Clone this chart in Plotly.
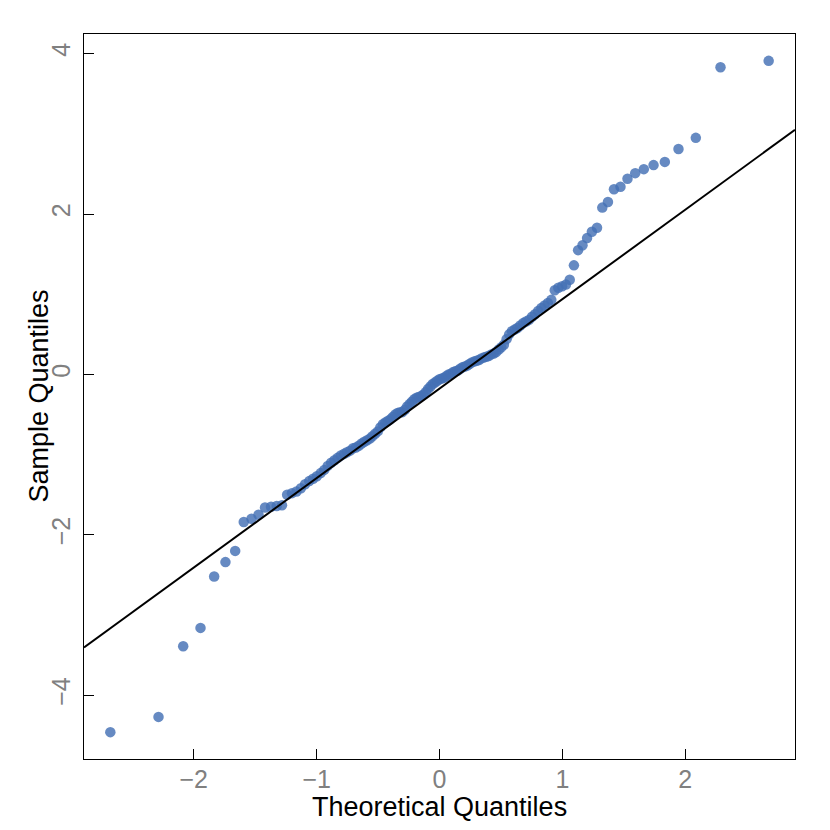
import plotly.graph_objects as go

# Theoretical normal quantiles (plotting positions (i-0.5)/n, n = 135)
theoretical_quantiles = [
    -2.679, -2.287, -2.086, -1.945, -1.834, -1.742, -1.663, -1.593, -1.530, -1.473,
    -1.420, -1.371, -1.325, -1.282, -1.240, -1.201, -1.164, -1.128, -1.094, -1.060,
    -1.029, -0.998, -0.967, -0.938, -0.910, -0.882, -0.855, -0.829, -0.803, -0.777,
    -0.753, -0.728, -0.704, -0.681, -0.657, -0.634, -0.612, -0.589, -0.567, -0.546,
    -0.524, -0.503, -0.482, -0.461, -0.441, -0.421, -0.400, -0.380, -0.360, -0.341,
    -0.321, -0.302, -0.282, -0.263, -0.244, -0.225, -0.206, -0.187, -0.168, -0.149,
    -0.130, -0.112, -0.093, -0.074, -0.056, -0.037, -0.019, 0.000,
    0.019, 0.037, 0.056, 0.074, 0.093, 0.112, 0.130, 0.149, 0.168, 0.187,
    0.206, 0.225, 0.244, 0.263, 0.282, 0.302, 0.321, 0.341, 0.360, 0.380,
    0.400, 0.421, 0.441, 0.461, 0.482, 0.503, 0.524, 0.546, 0.567, 0.589,
    0.612, 0.634, 0.657, 0.681, 0.704, 0.728, 0.753, 0.777, 0.803, 0.829,
    0.855, 0.882, 0.910, 0.938, 0.967, 0.998, 1.029, 1.060, 1.094, 1.128,
    1.164, 1.201, 1.240, 1.282, 1.325, 1.371, 1.420, 1.473, 1.530, 1.593,
    1.663, 1.742, 1.834, 1.945, 2.086, 2.287, 2.679,
]

# Sorted sample values
sample_quantiles = [
    -4.46, -4.27, -3.39, -3.16, -2.52, -2.34, -2.20, -1.84, -1.80, -1.75,
    -1.66, -1.65, -1.64, -1.63, -1.50,
    -1.48, -1.46, -1.42, -1.37, -1.33, -1.30, -1.27, -1.23, -1.19, -1.14,
    -1.10, -1.07, -1.04, -1.01, -0.99,
    -0.97, -0.95, -0.92, -0.91, -0.89, -0.86, -0.84, -0.82, -0.80, -0.77,
    -0.74, -0.71, -0.66, -0.62, -0.60,
    -0.58, -0.56, -0.53, -0.50, -0.48, -0.47, -0.47, -0.44, -0.40, -0.37,
    -0.34, -0.31, -0.29, -0.28, -0.27,
    -0.25, -0.22, -0.18, -0.15, -0.12, -0.10, -0.08, -0.06, -0.05, -0.04,
    -0.02, 0.00, 0.01, 0.03, 0.04,
    0.05, 0.07, 0.09, 0.10, 0.11, 0.13, 0.15, 0.16, 0.17, 0.18,
    0.20, 0.21, 0.22, 0.23, 0.25,
    0.26, 0.28, 0.31, 0.34, 0.37, 0.44, 0.50, 0.54, 0.56, 0.58,
    0.61, 0.64, 0.66, 0.68, 0.72,
    0.75, 0.79, 0.83, 0.86, 0.89, 0.93, 1.05, 1.08, 1.10, 1.12, 1.18, 1.36,
    1.55, 1.61, 1.70, 1.78, 1.83, 2.08, 2.15, 2.31, 2.34, 2.44, 2.51, 2.56,
    2.61, 2.65, 2.81, 2.95, 3.83, 3.91,
]

# Reference line (qqline) parameters
line_intercept = -0.177
line_slope = 1.1154

x_tick_values = [-2, -1, 0, 1, 2]
y_tick_values = [-4, -2, 0, 2, 4]
x_label = "Theoretical Quantiles"
y_label = "Sample Quantiles"

FONT = "Liberation Sans, Arial, Helvetica, sans-serif"


def padded_range(values, frac=0.04):
    lo, hi = min(values), max(values)
    pad = (hi - lo) * frac
    return [lo - pad, hi + pad]


x_range = padded_range(theoretical_quantiles)
y_range = padded_range(sample_quantiles)

fig = go.Figure()
fig.add_trace(go.Scatter(
    x=theoretical_quantiles, y=sample_quantiles, mode="markers",
    marker=dict(size=10.5, color="rgba(68,112,180,0.82)", line=dict(width=0)),
    showlegend=False, hoverinfo="x+y",
))
fig.add_trace(go.Scatter(
    x=x_range, y=[line_intercept + line_slope * v for v in x_range],
    mode="lines", line=dict(color="black", width=2),
    showlegend=False, hoverinfo="skip",
))

axis_common = dict(
    showgrid=False, zeroline=False, showline=True, mirror=True,
    linecolor="black", linewidth=1,
    ticks="inside", ticklen=10, tickcolor="black", tickwidth=1,
    tickfont=dict(family=FONT, size=25, color="#808080"),
)

fig.update_xaxes(range=x_range, tickmode="array", tickvals=x_tick_values,
                 ticklabelstandoff=-2, **axis_common)
fig.update_yaxes(range=y_range, tickmode="array", tickvals=y_tick_values,
                 tickangle=-90, ticklabelstandoff=3, **axis_common)

fig.add_annotation(text=x_label, xref="paper", yref="paper", x=0.5, y=0,
                   xanchor="center", yanchor="middle", yshift=-48,
                   showarrow=False, font=dict(family=FONT, size=27, color="black"))
fig.add_annotation(text=y_label, xref="paper", yref="paper", x=0, y=0.5,
                   xanchor="center", yanchor="middle", xshift=-46, textangle=-90,
                   showarrow=False, font=dict(family=FONT, size=27, color="black"))

fig.update_layout(
    width=822, height=822,
    margin=dict(l=76, r=35, t=26, b=71, autoexpand=False),
    plot_bgcolor="white", paper_bgcolor="white",
    font=dict(family=FONT),
)

fig.write_html("out.html")
